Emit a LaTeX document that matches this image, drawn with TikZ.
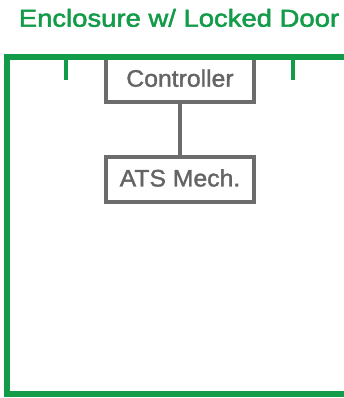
\documentclass[tikz,border=0pt]{standalone}
\usepackage{fontspec}
\setmainfont{Liberation Sans}
\newfontfamily\titlefont[FakeStretch=1.12,FakeBold=2]{Liberation Sans}
\newfontfamily\boxfont[FakeStretch=1.04,FakeBold=1.5]{Liberation Sans}
\definecolor{encgreen}{RGB}{18,155,72}
\definecolor{boxgray}{RGB}{108,108,108}
\definecolor{txtgray}{RGB}{100,100,100}
\tikzset{
  x=1pt, y=1pt,
  encline/.style={draw=encgreen, line width=6pt},
  tickline/.style={draw=encgreen, line width=4pt},
  compbox/.style={draw=boxgray, line width=4pt, fill=white, minimum width=148pt, minimum height=45pt,
    inner sep=0pt, text height=17pt, text depth=3.6pt, text=txtgray, font=\boxfont\fontsize{23.8}{26}\selectfont},
  conn/.style={draw=boxgray, line width=4pt},
  titletext/.style={text=encgreen, font=\titlefont\fontsize{24.5}{28}\selectfont, anchor=base, inner sep=0pt}
}
\begin{document}
\begin{tikzpicture}
\clip (0,0) rectangle (344,-398);
\fill[white] (0,0) rectangle (344,-398);
\node[titletext] (title) at (179,-26.7) {Enclosure w/ Locked Door};
\node[compbox] (ctrl) at (180,-80) {Controller};
\node[compbox] (ats) at (180,-179.75) {ATS Mech.};
\draw[conn] (ctrl.south) -- (ats.north);
\coordinate (tr) at (360,-57.5);
\coordinate (tl) at (7,-57.5);
\coordinate (bl) at (7,-393.5);
\coordinate (br) at (360,-393.5);
\draw[encline] (tr) -- (tl) -- (bl) -- (br);
\coordinate (t1a) at (66,-57.5);
\coordinate (t1b) at (66,-80);
\coordinate (t2a) at (293,-57.5);
\coordinate (t2b) at (293,-80);
\draw[tickline] (t1a) -- (t1b);
\draw[tickline] (t2a) -- (t2b);
\end{tikzpicture}
\end{document}
